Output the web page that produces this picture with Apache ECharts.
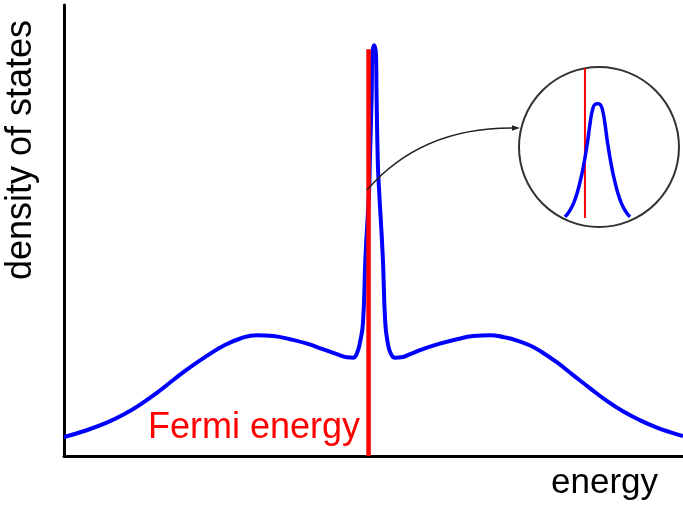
<!DOCTYPE html>
<html>
<head>
<meta charset="utf-8">
<script src="https://cdn.jsdelivr.net/npm/echarts@6/dist/echarts.min.js"></script>
<style>
  html, body { margin: 0; padding: 0; background: #fff; }
  #chart { width: 683px; height: 507px; }
</style>
</head>
<body>
<div id="chart"></div>
<script>
// Density of states with a narrow resonance just above the Fermi energy.
const energy = [
  -5.00, -4.66, -4.31, -4.01, -3.77, -3.50, -3.23, -2.96, -2.68, -2.43,
  -2.16, -1.88, -1.62, -1.35, -1.07, -0.82, -0.59, -0.43, -0.33, -0.27,
  -0.22, -0.17, -0.13, -0.07, -0.06, -0.03, -0.02, 0.01, 0.04, 0.05,
  0.07, 0.09, 0.15, 0.19, 0.23, 0.28, 0.35, 0.45, 0.59, 0.80,
  1.07, 1.35, 1.61, 1.88, 2.12, 2.32, 2.53, 2.69, 2.96, 3.22,
  3.50, 3.77, 4.03, 4.31, 4.58, 4.79, 5.00
];
const density = [
  4.2, 5.6, 7.4, 9.4, 11.4, 14.0, 16.9, 19.7, 22.3, 24.4,
  26.0, 26.8, 26.6, 25.9, 24.9, 23.7, 22.6, 21.9, 21.8, 22.7,
  25.1, 29.5, 44.1, 59.0, 65.0, 79.6, 88.9, 91.1, 88.9, 79.6,
  65.0, 59.0, 44.1, 29.5, 25.1, 22.7, 21.8, 21.9, 22.6, 23.7,
  24.9, 25.9, 26.6, 26.8, 26.3, 25.6, 24.5, 23.3, 20.8, 18.0,
  15.0, 12.2, 9.9, 7.9, 6.3, 5.3, 4.4
];
const fermiEnergy = -0.08;
const fermiLineSpan = [0, 90.2];

// Magnified view of the resonance peak (shown in the circle).
const insetEnergy = [
  -0.218, -0.187, -0.159, -0.132, -0.114, -0.097, -0.080, -0.062, -0.045, -0.028,
  -0.010, 0.007, 0.024, 0.042, 0.059, 0.076, 0.094, 0.111, 0.128, 0.146,
  0.173, 0.201, 0.232
];
const insetDensity = [
  35.0, 37.9, 41.7, 47.4, 52.4, 57.8, 64.3, 72.2, 81.2, 88.1,
  91.0, 91.3, 91.0, 88.1, 81.2, 72.2, 64.3, 57.8, 52.4, 47.4,
  41.7, 37.9, 35.0
];
const insetFermiSpan = [34.5, 109];

const axisTitleX = 'energy';
const axisTitleY = 'density of states';
const fermiTitle = 'Fermi energy';

const zip = (xs, ys) => xs.map((x, i) => [x, ys[i]]);

const chart = echarts.init(document.getElementById('chart'), null, { renderer: 'canvas' });

const hiddenAxis = { show: false };
const blackAxis = {
  show: true,
  axisLine: { show: true, onZero: false, lineStyle: { color: '#000', width: 3 } },
  axisTick: { show: false },
  axisLabel: { show: false },
  splitLine: { show: false }
};

chart.setOption({
  animation: false,
  backgroundColor: '#fff',
  grid: [
    { left: 64, right: 0, top: 5, bottom: 51 },
    { left: 520, top: 66, width: 158, height: 162 }
  ],
  xAxis: [
    Object.assign({ type: 'value', min: -5, max: 5, gridIndex: 0 }, blackAxis),
    Object.assign({ type: 'value', min: -0.53, max: 0.565, gridIndex: 1 }, hiddenAxis)
  ],
  yAxis: [
    Object.assign({ type: 'value', min: 0, max: 100, gridIndex: 0 }, blackAxis),
    Object.assign({ type: 'value', min: 29.5, max: 110, gridIndex: 1 }, hiddenAxis)
  ],
  series: [
    {
      name: 'density of states',
      type: 'line',
      xAxisIndex: 0, yAxisIndex: 0,
      data: zip(energy, density),
      smooth: 0.5,
      showSymbol: false,
      lineStyle: { color: '#0000ff', width: 4 },
      z: 2
    },
    {
      name: 'Fermi energy',
      type: 'line',
      xAxisIndex: 0, yAxisIndex: 0,
      data: fermiLineSpan.map(d => [fermiEnergy, d]),
      showSymbol: false,
      lineStyle: { color: '#ff0000', width: 4.5, cap: 'butt' },
      z: 3
    },
    {
      name: 'resonance (magnified)',
      type: 'line',
      xAxisIndex: 1, yAxisIndex: 1,
      data: zip(insetEnergy, insetDensity),
      smooth: 0.5,
      showSymbol: false,
      clip: false,
      lineStyle: { color: '#0000ff', width: 3.5 },
      z: 3
    },
    {
      name: 'Fermi energy (magnified)',
      type: 'line',
      xAxisIndex: 1, yAxisIndex: 1,
      data: insetFermiSpan.map(d => [fermiEnergy, d]),
      showSymbol: false,
      clip: false,
      lineStyle: { color: '#ff0000', width: 2 },
      z: 2
    }
  ],
  graphic: [
    {
      type: 'circle',
      shape: { cx: 599, cy: 147, r: 80 },
      style: { fill: 'none', stroke: '#333', lineWidth: 2 },
      z: 1
    },
    {
      type: 'bezierCurve',
      shape: { x1: 367, y1: 190, x2: 514, y2: 128, cpx1: 421.5, cpy1: 127 },
      style: { fill: 'none', stroke: '#222', lineWidth: 1.5 },
      z: 4
    },
    {
      type: 'polygon',
      shape: { points: [[520, 128], [512, 125.3], [512, 130.7]] },
      style: { fill: '#222' },
      z: 4
    },
    {
      type: 'text',
      x: 21, y: 150,
      rotation: Math.PI / 2,
      style: {
        text: axisTitleY,
        font: '36px "Liberation Sans", Arial, sans-serif',
        fill: '#000',
        textAlign: 'center',
        textVerticalAlign: 'middle'
      }
    },
    {
      type: 'text',
      x: 658, y: 483,
      style: {
        text: axisTitleX,
        font: '35px "Liberation Sans", Arial, sans-serif',
        fill: '#000',
        textAlign: 'right',
        textVerticalAlign: 'middle'
      }
    },
    {
      type: 'text',
      x: 360, y: 428,
      style: {
        text: fermiTitle,
        font: '36px "Liberation Sans", Arial, sans-serif',
        fill: '#ff0000',
        textAlign: 'right',
        textVerticalAlign: 'middle'
      }
    }
  ]
});
</script>
</body>
</html>
